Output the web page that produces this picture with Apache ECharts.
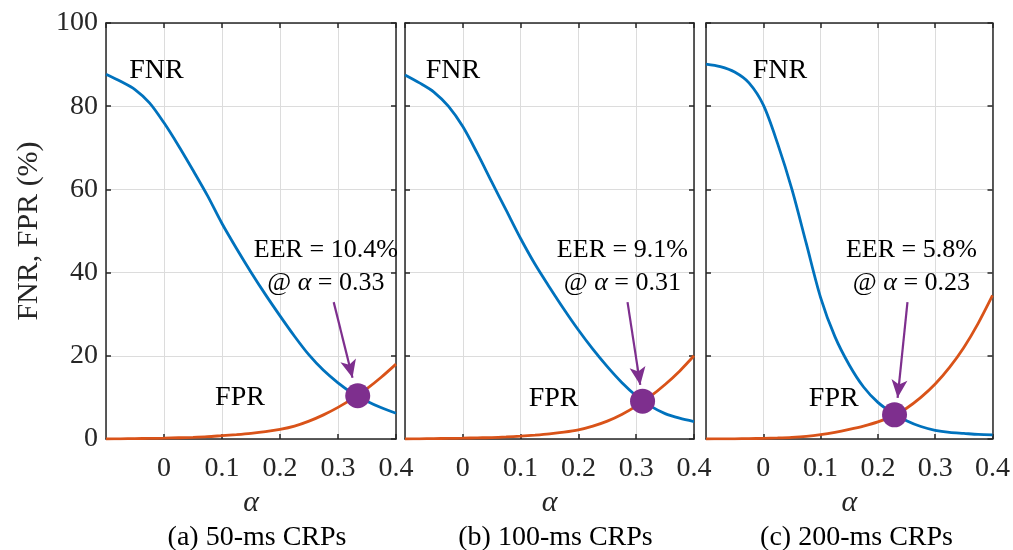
<!DOCTYPE html>
<html>
<head>
<meta charset="utf-8">
<script src="https://cdn.jsdelivr.net/npm/echarts@6/dist/echarts.min.js"></script>
<style>html,body{margin:0;padding:0;background:#fff}#c{width:1013px;height:550px}</style>
</head>
<body>
<div id="c"></div>
<script>
// ---- data ----
const alpha = [-0.1,-0.075,-0.05,-0.025,0,0.025,0.05,0.075,0.1,0.125,0.15,0.175,0.2,0.225,0.25,0.275,0.3,0.325,0.35,0.375,0.4];
const fnr50  = [87.7,86.0,84.0,80.8,76.0,70.5,64.6,58.5,51.8,45.8,40.1,34.7,29.6,24.7,20.2,16.5,13.5,11.0,9.1,7.5,6.2];
const fpr50  = [0,0.05,0.1,0.15,0.2,0.3,0.4,0.55,0.8,1.05,1.35,1.75,2.3,3.1,4.3,5.8,7.6,9.7,12.1,14.9,18.0];
const fnr100 = [87.5,85.6,83.4,80.0,75.1,68.7,61.8,55.0,48.2,42.0,36.5,31.2,26.2,21.6,17.4,13.6,10.4,7.9,6.1,5.0,4.2];
const fpr100 = [0,0.05,0.1,0.15,0.2,0.28,0.35,0.5,0.7,0.95,1.25,1.65,2.2,3.1,4.3,5.9,7.9,10.3,13.1,16.3,20.0];
const fnr200 = [90.1,89.5,88.2,85.6,80.3,71.0,60.0,47.0,34.0,24.6,17.8,12.5,8.8,6.3,4.4,3.0,2.1,1.6,1.35,1.1,1.0];
const fpr200 = [0,0.03,0.05,0.1,0.15,0.25,0.4,0.65,1.05,1.6,2.3,3.1,4.1,5.5,7.4,10.0,13.2,17.2,22.0,27.8,34.5];
const eerAlpha = [0.334, 0.311, 0.229];
const eerValue = [10.4, 9.1, 5.8];
const eerText  = ['10.4%', '9.1%', '5.8%'];
const eerAt    = ['0.33', '0.31', '0.23'];
const captions = ['(a) 50-ms CRPs', '(b) 100-ms CRPs', '(c) 200-ms CRPs'];
const xMin = -0.1, xMax = 0.4, xStep = 0.1;
const yMin = 0, yMax = 100, yStep = 20;

// ---- layout / style ----
const FONT = 'Liberation Serif';
const AX = '#262626';
const BLUE = '#0072BD', ORANGE = '#D95319', PURPLE = '#7E2F8E';
const grids = [
  {left: 106, top: 23, width: 290, height: 416},
  {left: 405, top: 23, width: 289, height: 416},
  {left: 706, top: 23, width: 289, height: 416}
];
const fnrSets = [fnr50, fnr100, fnr200];
const fprSets = [fpr50, fpr100, fpr200];
// annotation anchors (data coords)
const fnrLabelPos = [[-0.013, 88.5], [-0.017, 88.5], [0.029, 88.5]];
const fprLabelPos = [[0.131, 9.9], [0.157, 9.6], [0.123, 9.6]];
const eerLabelPos = [[0.279, 41.4], [0.276, 41.4], [0.2585, 41.4]];
const arrowFrom = [[0.2926, 32.9], [0.285, 32.9], [0.2516, 32.9]];
const arrowTo   = [[0.325, 14.7], [0.307, 13.0], [0.2344, 9.9]];

const pairs = arr => alpha.map((a, i) => [a, arr[i]]);
const tickFmt = v => String(+v.toFixed(1));

const xAxes = [], yAxes = [], series = [], graphics = [];
grids.forEach((g, k) => {
  xAxes.push({
    gridIndex: k, type: 'value', min: xMin, max: xMax, interval: xStep, position: 'bottom',
    axisLine: {show: true, onZero: false, lineStyle: {color: AX, width: 1.5}},
    axisTick: {show: true, inside: true, length: 5, lineStyle: {color: AX, width: 1.5}},
    axisLabel: {show: true, showMinLabel: false, formatter: tickFmt, margin: 16, color: AX, fontFamily: FONT, fontSize: 28},
    splitLine: {show: true, lineStyle: {color: '#dcdcdc', width: 1}},
    name: 'α', nameLocation: 'middle', nameGap: 47,
    nameTextStyle: {fontFamily: FONT, fontStyle: 'italic', fontSize: 30, color: AX}
  });
  xAxes.push({
    gridIndex: k, type: 'value', min: xMin, max: xMax, interval: xStep, position: 'top',
    axisLine: {show: true, onZero: false, lineStyle: {color: AX, width: 1.5}},
    axisTick: {show: true, inside: true, length: 5, lineStyle: {color: AX, width: 1.5}},
    axisLabel: {show: false}, splitLine: {show: false}
  });
  yAxes.push({
    gridIndex: k, type: 'value', min: yMin, max: yMax, interval: yStep, position: 'left',
    axisLine: {show: true, onZero: false, lineStyle: {color: AX, width: 1.5}},
    axisTick: {show: true, inside: true, length: 5, lineStyle: {color: AX, width: 1.5}},
    axisLabel: {show: k === 0, margin: 8, color: AX, fontFamily: FONT, fontSize: 28},
    splitLine: {show: true, lineStyle: {color: '#dcdcdc', width: 1}},
    name: k === 0 ? 'FNR, FPR (%)' : '', nameLocation: 'middle', nameGap: 62,
    nameTextStyle: {fontFamily: FONT, fontSize: 30, color: AX}
  });
  yAxes.push({
    gridIndex: k, type: 'value', min: yMin, max: yMax, interval: yStep, position: 'right',
    axisLine: {show: true, onZero: false, lineStyle: {color: AX, width: 1.5}},
    axisTick: {show: true, inside: true, length: 5, lineStyle: {color: AX, width: 1.5}},
    axisLabel: {show: false}, splitLine: {show: false}
  });
  const xi = 2 * k, yi = 2 * k;
  series.push({
    type: 'line', xAxisIndex: xi, yAxisIndex: yi, data: pairs(fnrSets[k]),
    showSymbol: false, symbol: 'none', smooth: 0.3,
    lineStyle: {color: BLUE, width: 2.8}, itemStyle: {color: BLUE}, z: 3,
    markPoint: {
      symbol: 'circle', symbolSize: 0, silent: true,
      label: {show: true, position: 'inside', formatter: 'FNR', color: '#000', fontFamily: FONT, fontSize: 28},
      data: [{coord: fnrLabelPos[k]}]
    }
  });
  series.push({
    type: 'line', xAxisIndex: xi, yAxisIndex: yi, data: pairs(fprSets[k]),
    showSymbol: false, symbol: 'none', smooth: 0.3,
    lineStyle: {color: ORANGE, width: 2.8}, itemStyle: {color: ORANGE}, z: 3,
    markPoint: {
      symbol: 'circle', symbolSize: 0, silent: true,
      label: {show: true, position: 'inside', formatter: 'FPR', color: '#000', fontFamily: FONT, fontSize: 28},
      data: [{coord: fprLabelPos[k]}]
    }
  });
  series.push({
    type: 'scatter', xAxisIndex: xi, yAxisIndex: yi, data: [[eerAlpha[k], eerValue[k]]],
    symbol: 'circle', symbolSize: 25, itemStyle: {color: PURPLE, opacity: 1}, z: 5,
    markLine: {
      silent: true, symbol: ['none', 'arrow'], symbolSize: [0, 18],
      lineStyle: {color: PURPLE, width: 2.2, type: 'solid'},
      label: {show: false},
      data: [[{coord: arrowFrom[k]}, {coord: arrowTo[k], symbolSize: [12, 18]}]]
    },
    markPoint: {
      symbol: 'circle', symbolSize: 0, silent: true,
      label: {
        show: true, position: 'inside', color: '#000', fontFamily: FONT, fontSize: 26, lineHeight: 33, align: 'center',
        formatter: '{n|EER = ' + eerText[k] + '}\n{n|@ }{i|α}{n| = ' + eerAt[k] + '}',
        rich: {
          n: {fontFamily: FONT, fontSize: 26, color: '#000', lineHeight: 33},
          i: {fontFamily: FONT, fontSize: 26, fontStyle: 'italic', color: '#000', lineHeight: 33}
        }
      },
      data: [{coord: eerLabelPos[k]}]
    }
  });
  graphics.push({
    type: 'text', x: g.left + g.width / 2 + 6, y: 538,
    style: {text: captions[k], font: '28px "' + FONT + '"', fill: '#000', align: 'center', verticalAlign: 'middle'}
  });
});

const chart = echarts.init(document.getElementById('c'), null, {renderer: 'canvas'});
chart.setOption({
  animation: false,
  backgroundColor: '#fff',
  grid: grids.map(g => Object.assign({containLabel: false}, g)),
  xAxis: xAxes, yAxis: yAxes, series: series, graphic: graphics
});
</script>
</body>
</html>
